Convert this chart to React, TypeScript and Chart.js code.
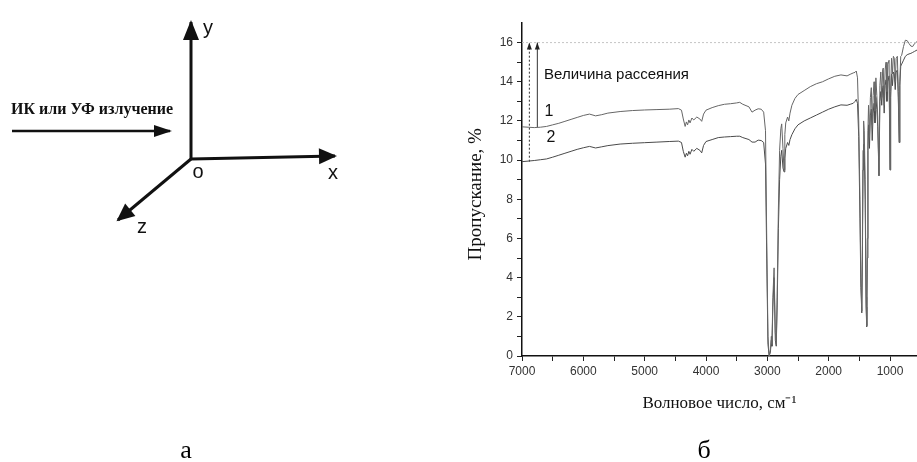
import React, { useEffect, useRef } from "react";
import { Chart, registerables } from "chart.js";

Chart.register(...registerables);

// ---------- Spectrum data (панель б) ----------
const wavenumbers = [
  7000, 6900, 6800, 6700, 6600, 6500, 6400, 6300, 6200, 6100, 6000, 5900, 5800, 5700, 5600, 5500, 5400, 5200, 5000, 4800,
  4600, 4450, 4400, 4370, 4340, 4320, 4300, 4280, 4260, 4230, 4200, 4150, 4100, 4070, 4040, 4000, 3900, 3800, 3700, 3600,
  3500, 3450, 3400, 3300, 3250, 3200, 3150, 3100, 3060, 3030, 3010, 2990, 2970, 2950, 2935, 2925, 2910, 2890, 2870, 2855,
  2840, 2820, 2800, 2780, 2766, 2745, 2728, 2715, 2700, 2670, 2650, 2630, 2600, 2550, 2500, 2400, 2300, 2200, 2100, 2000,
  1900, 1800, 1700, 1650, 1600, 1570, 1550, 1530, 1510, 1490, 1475, 1460, 1450, 1440, 1430, 1420, 1405, 1390, 1380, 1370,
  1360, 1350, 1335, 1320, 1305, 1290, 1275, 1260, 1245, 1230, 1215, 1200, 1180, 1165, 1150, 1135, 1120, 1110, 1095, 1080,
  1065, 1050, 1035, 1015, 1000, 990, 975, 960, 945, 930, 915, 900, 880, 865, 850, 840, 825, 810, 780, 750,
  720, 690, 660, 630, 600, 560,
];

const transmittance1 = [
  11.7, 11.68, 11.66, 11.68, 11.72, 11.8, 11.88, 11.98, 12.08, 12.18, 12.28, 12.35, 12.26, 12.32, 12.4, 12.44, 12.48, 12.53, 12.56, 12.58,
  12.6, 12.63, 12.55, 12.1, 11.72, 11.95, 11.8, 12.05, 11.9, 12.15, 12.05, 12.2, 12.1, 11.98, 12.35, 12.55, 12.68, 12.78, 12.85, 12.88,
  12.92, 12.95, 12.85, 12.72, 12.45, 12.55, 12.62, 12.6, 12.45, 11.5, 6.0, 1.0, 0.0, 0.3, 1.0, 0.6, 3.0, 4.5, 1.2, 0.6,
  3.0, 7.5, 10.5, 11.6, 11.85, 10.6, 9.5, 11.3, 11.9, 12.2, 12.0, 12.4, 12.8, 13.15, 13.35, 13.55, 13.75, 13.9, 14.0, 14.15,
  14.28, 14.35, 14.3, 14.38, 14.45, 14.48, 14.55, 14.2, 12.0, 8.0, 4.0, 2.3, 6.0, 10.5, 12.0, 11.5, 9.0, 3.0, 1.55, 6.0,
  11.5, 12.8, 11.2, 13.2, 13.7, 11.8, 13.3, 14.0, 12.5, 14.2, 13.3, 12.2, 9.2, 13.8, 14.5, 13.2, 14.6, 14.7, 12.8, 14.6,
  15.0, 13.5, 14.9, 15.1, 9.5, 13.5, 15.2, 14.4, 15.3, 15.2, 14.0, 15.2, 15.3, 13.5, 10.9, 14.0, 15.3, 15.35, 15.8, 16.12,
  16.1, 15.95, 15.82, 15.8, 15.95, 16.05,
];

const transmittance2 = [
  9.92, 9.95, 9.98, 10.02, 10.06, 10.15, 10.25, 10.35, 10.45, 10.55, 10.63, 10.7, 10.62, 10.68, 10.74, 10.78, 10.82, 10.86, 10.89, 10.92,
  10.95, 10.97, 10.9, 10.45, 10.15, 10.35, 10.22, 10.45, 10.3, 10.55, 10.45, 10.6, 10.5, 10.37, 10.75, 10.95, 11.05, 11.15, 11.18, 11.2,
  11.22, 11.22, 11.15, 11.05, 10.92, 10.92, 11.02, 11.0, 10.9, 9.8, 5.0, 0.6, 0.0, 0.2, 0.8, 0.5, 2.5, 4.0, 0.8, 0.5,
  2.5, 6.5, 9.0, 10.2, 10.5, 9.6, 9.4, 10.1, 10.6, 10.9, 10.75, 11.05, 11.3, 11.6, 11.8, 12.0, 12.15, 12.3, 12.45, 12.6,
  12.72, 12.82, 12.8, 12.85, 12.9, 13.0, 13.1, 12.9, 11.2, 7.0, 3.5, 2.2, 5.0, 9.5, 10.8, 10.5, 8.0, 2.5, 1.5, 5.0,
  10.5, 11.8, 10.6, 12.3, 12.6, 11.0, 12.4, 12.9, 11.9, 13.2, 12.6, 11.7, 9.2, 13.0, 13.5, 12.8, 13.7, 13.8, 12.4, 13.8,
  14.1, 13.0, 14.0, 14.3, 9.5, 13.2, 14.4, 13.8, 14.5, 14.4, 13.6, 14.5, 14.6, 13.2, 10.9, 13.8, 14.8, 14.9, 15.1, 15.3,
  15.38, 15.42, 15.45, 15.5, 15.55, 15.62,
];

const xTickValues = [7000, 6500, 6000, 5500, 5000, 4500, 4000, 3500, 3000, 2500, 2000, 1500, 1000];
const xTickLabels = [7000, 6000, 5000, 4000, 3000, 2000, 1000];
const yTickValues = [0, 1, 2, 3, 4, 5, 6, 7, 8, 9, 10, 11, 12, 13, 14, 15, 16];
const yTickLabels = [0, 2, 4, 6, 8, 10, 12, 14, 16];
const xRange = [560, 7000];
const yRange = [0, 17];

// "Величина рассеяния": reference level and the two arrows
const scatterLevel = 16;
const scatterArrowWavenumbers = [6880, 6750]; // dotted (curve 2), solid (curve 1)
const scatterArrowStarts = [9.92, 11.68];

const spectrumTexts = [
  { text: "Величина рассеяния", x: 6640, y: 14.37, align: "left", size: 15 },
  { text: "1", x: 6560, y: 12.5, align: "center", size: 16 },
  { text: "2", x: 6530, y: 11.15, align: "center", size: 16 },
];

// ---------- Diagram data (панель а), origin O at (0,0) ----------
const diagramRange = { x: [-191, 249], y: [-303, 159] };
const axisY = [[0, 0], [0, 137]];
const axisX = [[0, 0], [144, 3]];
const axisZ = [[0, 0], [-73, -61]];
const radiationArrow = [[-179, 28], [-21, 28]];
const sansFamily = "'Liberation Sans', Arial, sans-serif";
const serifFamily = "'Liberation Serif', 'Times New Roman', serif";
const diagramTexts = [
  { text: "y", x: 17, y: 131, align: "center", size: 20, weight: "normal", family: sansFamily },
  { text: "o", x: 7, y: -13, align: "center", size: 20, weight: "normal", family: sansFamily },
  { text: "x", x: 142, y: -14, align: "center", size: 20, weight: "normal", family: sansFamily },
  { text: "z", x: -49, y: -68, align: "center", size: 20, weight: "normal", family: sansFamily },
  { text: "ИК или УФ излучение", x: -180, y: 49, align: "left", size: 16, weight: "bold", family: serifFamily },
];

const captions = [
  { text: "а", x: 186 },
  { text: "б", x: 704 },
];

// ---------- plugins ----------
const arrowHeads = {
  id: "arrowHeads",
  afterDatasetsDraw(chart: any) {
    const ctx = chart.ctx;
    chart.data.datasets.forEach((ds: any, i: number) => {
      if (!ds.arrow) return;
      const pts = chart.getDatasetMeta(i).data;
      if (pts.length < 2) return;
      const a = pts[pts.length - 2];
      const b = pts[pts.length - 1];
      const ang = Math.atan2(b.y - a.y, b.x - a.x);
      const { length, width, extend } = ds.arrow;
      const tx = b.x + extend * Math.cos(ang);
      const ty = b.y + extend * Math.sin(ang);
      const bx = tx - length * Math.cos(ang);
      const by = ty - length * Math.sin(ang);
      ctx.save();
      ctx.fillStyle = ds.arrow.color || ds.borderColor;
      ctx.beginPath();
      ctx.moveTo(tx, ty);
      ctx.lineTo(bx + width * Math.sin(ang), by - width * Math.cos(ang));
      ctx.lineTo(bx - width * Math.sin(ang), by + width * Math.cos(ang));
      ctx.closePath();
      ctx.fill();
      ctx.restore();
    });
  },
};

const dataText = {
  id: "dataText",
  afterDatasetsDraw(chart: any, _args: any, opts: any) {
    const ctx = chart.ctx;
    const xs = chart.scales.x;
    const ys = chart.scales.y;
    (opts.items || []).forEach((it: any) => {
      ctx.save();
      ctx.fillStyle = it.color || "#111";
      ctx.font = `${it.weight || "normal"} ${it.size}px ${it.family || sansFamily}`;
      ctx.textAlign = it.align;
      ctx.textBaseline = "middle";
      ctx.fillText(it.text, xs.getPixelForValue(it.x), ys.getPixelForValue(it.y));
      ctx.restore();
    });
  },
};

const toPoints = (pairs: number[][]) => pairs.map(([x, y]) => ({ x, y }));

function DiagramChart() {
  const ref = useRef<HTMLCanvasElement>(null);
  useEffect(() => {
    if (!ref.current) return;
    const lineDs = (pairs: number[][], width: number, head: any) => ({
      data: toPoints(pairs),
      borderColor: "#111",
      borderWidth: width,
      pointRadius: 0,
      fill: false,
      tension: 0,
      arrow: head,
    });
    const chart = new Chart(ref.current, {
      type: "line",
      data: {
        datasets: [
          lineDs(axisY, 3, { length: 20, width: 8, extend: 2 }),
          lineDs(axisX, 3, { length: 18, width: 8, extend: 2 }),
          lineDs(axisZ, 3, { length: 18, width: 8, extend: 2 }),
          lineDs(radiationArrow, 2.5, { length: 18, width: 6, extend: 2 }),
        ] as any,
      },
      options: {
        animation: false,
        responsive: false,
        events: [],
        layout: { padding: 0 },
        scales: {
          x: { type: "linear", display: false, min: diagramRange.x[0], max: diagramRange.x[1] },
          y: { type: "linear", display: false, min: diagramRange.y[0], max: diagramRange.y[1] },
        },
        plugins: {
          legend: { display: false },
          tooltip: { enabled: false },
          dataText: { items: diagramTexts },
        } as any,
      },
      plugins: [arrowHeads, dataText],
    });
    return () => chart.destroy();
  }, []);
  return (
    <canvas
      ref={ref}
      width={440}
      height={462}
      style={{ position: "absolute", left: 0, top: 0, width: 440, height: 462 }}
    />
  );
}

function SpectrumChart() {
  const ref = useRef<HTMLCanvasElement>(null);
  useEffect(() => {
    if (!ref.current) return;
    const curve = (vals: number[], color: string) => ({
      data: wavenumbers.map((w, i) => ({ x: w, y: vals[i] })),
      borderColor: color,
      borderWidth: 1,
      pointRadius: 0,
      fill: false,
      tension: 0,
    });
    const chart = new Chart(ref.current, {
      type: "line",
      data: {
        datasets: [
          {
            data: [
              { x: xRange[1], y: scatterLevel },
              { x: xRange[0], y: scatterLevel },
            ],
            borderColor: "#c4c4c4",
            borderWidth: 1,
            borderDash: [2, 2],
            pointRadius: 0,
          },
          curve(transmittance1, "#666666"),
          curve(transmittance2, "#4a4a4a"),
          {
            data: [
              { x: scatterArrowWavenumbers[0], y: scatterArrowStarts[0] },
              { x: scatterArrowWavenumbers[0], y: scatterLevel },
            ],
            borderColor: "#333",
            borderWidth: 1,
            borderDash: [2, 2],
            pointRadius: 0,
            arrow: { length: 7, width: 2.5, extend: 0, color: "#222" },
          },
          {
            data: [
              { x: scatterArrowWavenumbers[1], y: scatterArrowStarts[1] },
              { x: scatterArrowWavenumbers[1], y: scatterLevel },
            ],
            borderColor: "#333",
            borderWidth: 1,
            pointRadius: 0,
            arrow: { length: 7, width: 2.5, extend: 0, color: "#222" },
          },
        ] as any,
      },
      options: {
        animation: false,
        responsive: false,
        events: [],
        layout: { padding: { left: 0, right: 0, top: 23, bottom: 24 } },
        scales: {
          x: {
            type: "linear",
            reverse: true,
            min: xRange[0],
            max: xRange[1],
            afterBuildTicks: (s: any) => {
              s.ticks = xTickValues.map((v) => ({ value: v }));
            },
            afterFit: (s: any) => {
              s.height = 82;
            },
            ticks: {
              autoSkip: false,
              maxRotation: 0,
              padding: 3,
              color: "#333",
              font: { family: sansFamily, size: 12 },
              callback: (v: any) => (xTickLabels.includes(Number(v)) ? String(v) : ""),
            },
            grid: { drawOnChartArea: false, drawTicks: true, tickLength: 5, tickColor: "#222", tickWidth: 1 },
            border: { display: true, color: "#111", width: 1.5 },
            title: {
              display: true,
              text: "Волновое число, см⁻¹",
              color: "#111",
              font: { family: serifFamily, size: 17, lineHeight: 1.2 },
              padding: { top: 10, bottom: 23.8 },
            },
          },
          y: {
            type: "linear",
            min: yRange[0],
            max: yRange[1],
            afterBuildTicks: (s: any) => {
              s.ticks = yTickValues.map((v) => ({ value: v }));
            },
            afterFit: (s: any) => {
              s.width = 82;
            },
            ticks: {
              autoSkip: false,
              padding: 4,
              color: "#333",
              font: { family: sansFamily, size: 12 },
              callback: (v: any) => (yTickLabels.includes(Number(v)) ? String(v) : ""),
            },
            grid: { drawOnChartArea: false, drawTicks: true, tickLength: 5, tickWidth: 1, tickColor: "#222" },
            border: { display: true, color: "#111", width: 1.5 },
            title: {
              display: true,
              text: "Пропускание, %\u00a0\u00a0",
              color: "#111",
              font: { family: serifFamily, size: 19, lineHeight: 1.2 },
              padding: { top: 24.6, bottom: 0 },
            },
          },
        },
        plugins: {
          legend: { display: false },
          tooltip: { enabled: false },
          dataText: { items: spectrumTexts },
        } as any,
      },
      plugins: [arrowHeads, dataText],
    });
    return () => chart.destroy();
  }, []);
  return (
    <canvas
      ref={ref}
      width={477}
      height={462}
      style={{ position: "absolute", left: 440, top: 0, width: 477, height: 462 }}
    />
  );
}

export default function App() {
  return (
    <div
      style={{
        position: "fixed",
        left: 0,
        top: 0,
        width: 917,
        height: 462,
        overflow: "hidden",
        background: "#fff",
      }}
    >
      <DiagramChart />
      <SpectrumChart />
      {captions.map((c) => (
        <div
          key={c.text}
          style={{
            position: "absolute",
            left: c.x - 20,
            top: 437,
            width: 40,
            textAlign: "center",
            fontFamily: serifFamily,
            fontSize: 26,
            lineHeight: "26px",
            color: "#000",
          }}
        >
          {c.text}
        </div>
      ))}
    </div>
  );
}
